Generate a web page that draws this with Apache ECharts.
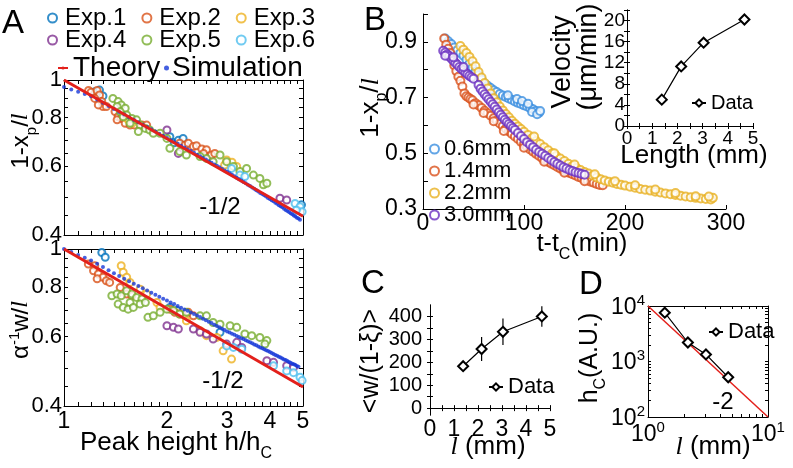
<!DOCTYPE html>
<html><head><meta charset="utf-8">
<script src="https://cdn.jsdelivr.net/npm/echarts@6/dist/echarts.min.js"></script>
<style>html,body{margin:0;padding:0;background:#fff}#c{width:793px;height:468px}</style>
</head><body><div id="c"></div>
<script>
// ---------- Panel A data ----------
const simX = [1.00,1.05,1.10,1.15,1.20,1.25,1.30,1.35,1.40,1.45,1.50,1.55,1.60,1.65,1.70,1.75,1.80,1.85,1.90,1.95,
  2.00,2.05,2.10,2.15,2.20,2.25,2.30,2.35,2.40,2.45,2.50,2.55,2.60,2.65,2.70,2.75,2.80,2.85,2.90,2.95,
  3.00,3.05,3.10,3.15,3.20,3.25,3.30,3.35,3.40,3.45,3.50,3.55,3.60,3.65,3.70,3.75,3.80,3.85,3.90,3.95,
  4.00,4.05,4.10,4.15,4.20,4.25,4.30,4.35,4.40,4.45,4.50,4.55,4.60,4.65,4.70,4.75,4.80,4.85,4.90];
const simTopY = [.960,.946,.933,.921,.909,.891,.874,.858,.843,.828,.815,.802,.790,.779,.768,.757,.747,.737,.728,.719,
  .710,.701,.693,.686,.678,.671,.663,.657,.650,.643,.637,.631,.625,.619,.613,.607,.602,.597,.591,.586,
  .581,.576,.571,.566,.561,.556,.552,.547,.543,.538,.534,.530,.526,.521,.517,.513,.510,.506,.502,.498,
  .495,.491,.488,.484,.481,.477,.474,.471,.467,.464,.461,.458,.455,.452,.449,.446,.443,.441,.438];
const simBotY = [1.000,.982,.965,.950,.935,.917,.900,.884,.868,.854,.840,.828,.816,.806,.795,.785,.775,.766,.757,.748,
  .740,.732,.725,.717,.710,.703,.697,.690,.684,.678,.672,.666,.660,.654,.649,.643,.638,.633,.628,.623,
  .618,.614,.610,.606,.602,.598,.594,.591,.587,.584,.580,.577,.573,.570,.566,.563,.560,.557,.554,.551,
  .548,.545,.542,.539,.536,.533,.531,.528,.525,.523,.520,.517,.515,.512,.510,.508,.505,.503];
const theoryAX = [1, 5];
const theoryAY = [1, 0.447];

const exp1Top = [[1.23,0.933],[1.27,0.942],[1.30,0.91],[2.04,0.715],[2.10,0.69],[2.16,0.70],[2.23,0.708],[4.95,0.478]];
const exp2Top = [[1.18,0.94],[1.20,0.93],[1.25,0.94],[1.27,0.915],[1.23,0.897],[1.29,0.88],[1.30,0.855],[1.26,0.863],[1.33,0.855],
  [1.41,0.83],[1.44,0.805],[1.47,0.797],[1.43,0.79],[1.51,0.774],[1.56,0.766],[1.61,0.766],[1.69,0.766],[1.745,0.766],
  [2.18,0.688],[2.26,0.681],[2.31,0.688],[2.39,0.675],[2.44,0.678],[2.53,0.665],[2.61,0.662],[2.70,0.642],[2.76,0.648],[2.56,0.648]];
const exp3Top = [[1.525,0.797],[1.55,0.785],[1.58,0.774],[2.95,0.605],[2.99,0.623],[3.10,0.615],[3.20,0.60]];
const exp4Top = [[2.00,0.744],[2.16,0.648],[4.28,0.497],[4.48,0.492]];
const exp5Top = [[1.39,0.897],[1.44,0.88],[1.47,0.863],[1.43,0.855],[1.51,0.846],[1.46,0.829],[1.525,0.813],[1.49,0.805],
  [1.58,0.797],[1.63,0.79],[1.56,0.774],[1.67,0.766],[1.73,0.751],[1.65,0.737],[1.78,0.744],[1.825,0.73],[1.91,0.73],
  [2.00,0.708],[2.04,0.668],[2.18,0.655],[2.28,0.642],[2.50,0.636],[2.61,0.629],[2.73,0.617],[2.86,0.642],[2.99,0.617],
  [3.13,0.60],[3.27,0.582],[3.42,0.593],[3.58,0.57],[3.74,0.559],[3.83,0.538],[3.92,0.543]];
const exp6Top = [[3.09,0.593],[3.27,0.57],[3.38,0.565],[4.74,0.482],[4.90,0.473],[4.97,0.459],[4.78,0.463]];

const exp1Bot = [[1.29,0.98],[1.32,0.953],[2.04,0.711],[2.14,0.698],[2.86,0.615]];
const exp2Bot = [[1.178,0.916],[1.23,0.907],[1.22,0.881],[1.26,0.864],[1.30,0.848],[1.25,0.84],[1.33,0.831],[1.36,0.823],
  [1.46,0.799],[1.525,0.769],[1.58,0.761],[2.04,0.704],[2.11,0.691],[2.18,0.684],[2.31,0.691],[2.39,0.677]];
const exp3Bot = [[1.47,0.907],[1.49,0.873],[1.525,0.848],[1.56,0.823],[1.67,0.791],[1.745,0.769],[1.87,0.732],[1.91,0.711],
  [2.28,0.658],[2.50,0.621],[2.61,0.603],[2.80,0.597],[2.92,0.552],[3.09,0.526]];
const exp4Bot = [[2.00,0.639],[2.09,0.633],[2.16,0.627],[2.39,0.627],[2.50,0.615],[2.61,0.609],[2.73,0.591],[2.99,0.574],
  [3.20,0.58],[3.31,0.563],[3.92,0.521],[4.10,0.516],[4.48,0.506],[4.69,0.501]];
const exp5Bot = [[1.38,0.761],[1.43,0.769],[1.47,0.761],[1.525,0.784],[1.58,0.769],[1.63,0.754],[1.69,0.747],[1.56,0.732],
  [1.44,0.725],[1.49,0.711],[1.54,0.704],[1.595,0.711],[1.67,0.725],[1.73,0.732],[1.76,0.671],[1.825,0.677],[1.91,0.691],
  [2.00,0.704],[2.09,0.698],[2.18,0.684],[2.28,0.691],[2.50,0.677],[2.61,0.677],[2.73,0.651],[2.86,0.645],[3.06,0.639],
  [3.20,0.633],[3.38,0.609],[3.54,0.603],[3.74,0.597],[3.92,0.586],[3.87,0.574]];
const exp6Bot = [[2.99,0.568],[3.13,0.563],[3.31,0.557],[4.10,0.506],[4.48,0.491],[4.69,0.486],[4.90,0.473],[4.97,0.464]];

// ---------- Panel B data (t - tc in min, 1 - xp/l) ----------
const b06 = [[22,0.912],[25,0.902],[28,0.892],[31,0.88],[34,0.87],[37,0.86],[40,0.85],[43,0.836],[46,0.822],[49,0.808],
  [52,0.794],[55,0.78],[58,0.765],[61,0.75],[64,0.742],[67,0.734],[70,0.726],[73,0.72],[76,0.713],[79,0.707],[82,0.702],
  [85,0.697],[88,0.692],[91,0.686],[94,0.681],[97,0.677],[100,0.672],[103,0.668],[106,0.663],[109,0.658],[112,0.652],
  [115,0.646],[84,0.708],[93,0.695],[98,0.688],[104,0.678],[108,0.648],[113,0.64],[116,0.652]];
const b14 = [[21,0.912],[23,0.89],[25,0.875],[27,0.86],[29,0.84],[31,0.815],[33,0.795],[35,0.775],[37,0.76],[39,0.74],
  [41,0.715],[43,0.705],[45,0.70],[47,0.695],[49,0.69],[52,0.68],[55,0.672],[58,0.663],[61,0.653],[64,0.644],[67,0.635],
  [70,0.626],[73,0.617],[76,0.607],[79,0.597],[82,0.588],[85,0.578],[88,0.569],[91,0.56],[94,0.551],[97,0.541],[100,0.532],
  [103,0.523],[106,0.514],[109,0.506],[112,0.498],[115,0.49],[118,0.482],[121,0.476],[124,0.469],[127,0.463],[130,0.457],
  [133,0.451],[136,0.445],[139,0.44],[142,0.434],[145,0.429],[148,0.425],[151,0.42],[154,0.415],[157,0.411],[160,0.406],
  [163,0.402],[166,0.398],[169,0.394],[172,0.39],[175,0.386],[178,0.385],
  [50,0.675],[60,0.645],[70,0.615],[80,0.58],[100,0.52],[120,0.47],[140,0.43],[160,0.40]];
const b22 = [[37,0.885],[40,0.872],[43,0.86],[46,0.846],[49,0.83],[52,0.812],[55,0.792],[58,0.772],[61,0.752],[64,0.733],
  [67,0.715],[70,0.698],[73,0.683],[76,0.668],[79,0.654],[82,0.641],[85,0.629],[88,0.617],[91,0.606],[94,0.596],[97,0.587],
  [100,0.577],[104,0.566],[108,0.555],[112,0.544],[116,0.533],[120,0.522],[124,0.511],[128,0.5],[132,0.49],[136,0.481],
  [140,0.472],[144,0.462],[148,0.454],[152,0.447],[156,0.44],[160,0.433],[164,0.427],[168,0.42],[172,0.413],[176,0.407],
  [180,0.402],[184,0.398],[188,0.394],[192,0.39],[196,0.387],[200,0.384],[205,0.38],[210,0.376],[215,0.372],[220,0.369],
  [225,0.366],[230,0.362],[235,0.359],[240,0.356],[245,0.353],[250,0.35],[255,0.348],[260,0.345],[265,0.342],[270,0.34],
  [275,0.338],[280,0.336],[285,0.334],[287,0.34],
  [110,0.56],[130,0.5],[150,0.46],[170,0.425],[190,0.4],[210,0.385],[230,0.37],[250,0.357],[270,0.346],[283,0.345]];
const b30 = [[20,0.868],[22,0.862],[24,0.855],[26,0.848],[28,0.84],[30,0.832],[32,0.825],[34,0.818],[36,0.81],[38,0.803],
  [40,0.797],[42,0.79],[44,0.784],[46,0.778],[48,0.773],[50,0.768],[55,0.745],[57,0.732],[59,0.722],[61,0.712],[63,0.703],
  [65,0.694],[67,0.685],[69,0.676],[71,0.667],[73,0.657],[75,0.647],[77,0.638],[79,0.629],[81,0.62],[83,0.612],[85,0.605],
  [87,0.598],[89,0.591],[91,0.584],[94,0.573],[97,0.562],[100,0.551],[103,0.54],[106,0.531],[109,0.522],[112,0.513],
  [115,0.505],[118,0.498],[121,0.491],[124,0.483],[127,0.476],[130,0.469],[133,0.462],[136,0.456],[139,0.45],[142,0.445],
  [145,0.44],[148,0.436],[151,0.432],[154,0.429],[157,0.426],[160,0.423],[22,0.85],[30,0.845],[40,0.81]];

// ---------- Panels B-inset, C, D ----------
const lengthMM = [1.38, 2.15, 3.04, 4.66];
const velocity = [5.0, 11.3, 15.8, 20.2];
const widthMean = [183, 258, 333, 400];
const widthErr = [10, 52, 58, 45];
const hcValues = [7580, 2200, 1340, 521];
const theoryDX = [1, 10];
const theoryDY = [10000, 100];

// ---------- tick values ----------
const aXLabels = [1, 2, 3, 4, 5];
const aXTicks = [1,1.1,1.2,1.3,1.4,1.5,1.6,1.7,1.8,1.9,2,2.2,2.4,2.6,2.8,3,3.2,3.4,3.6,3.8,4,4.2,4.4,4.6,4.8,5];
const aYLabels = [0.4, 0.6, 0.8, 1];
const aYTicks = [0.4,0.45,0.5,0.55,0.6,0.65,0.7,0.75,0.8,0.85,0.9,0.95,1];
const cYLabels = [0, 100, 200, 300, 400];
const cYTicks = [0, 50, 100, 150, 200, 250, 300, 350, 400];
const halfTicks5 = [0,0.5,1,1.5,2,2.5,3,3.5,4,4.5,5];
const dXLabels = [1, 10];
const dXTicks = [1,2,3,4,5,6,7,8,9,10];
const dYLabels = [100, 1000, 10000];
const dYTicks = [100,200,300,400,500,600,700,800,900,1000,2000,3000,4000,5000,6000,7000,8000,9000,10000];

const FONT = 'Liberation Sans';
const C = {e1:'#0072bd', e2:'#d95319', e3:'#edb120', e4:'#7e2f8e', e5:'#77ac30', e6:'#4dbeee',
  sim:'#1638d8', th:'#e3201b', b06:'#3b8ee0', b14:'#d9501a', b22:'#e8b020', b30:'#6a2ec0'};

const chart = echarts.init(document.getElementById('c'), null, {renderer:'canvas'});

function gridBox(l,t,w,h){ return {left:l, top:t, width:w, height:h, containLabel:false, outerBoundsMode:'none', show:false}; }
const line = {show:true, lineStyle:{color:'#000', width:1}};
function ax(base){ return Object.assign({splitLine:{show:false}, axisLine:line, nameTextStyle:{fontFamily:FONT}}, base); }
function tick(vals, len){ return {show:true, inside:true, length:len||4, customValues:vals, lineStyle:{color:'#000', width:1}}; }
function lab(vals, size, margin, fmt){ const o = {show:true, customValues:vals, fontSize:size, fontFamily:FONT, color:'#000', margin:margin, showMinLabel:true, showMaxLabel:true, hideOverlap:false}; if (fmt) o.formatter = fmt; return o; }
const noLab = {show:false};
const fmtA = v => String(Math.round(v*10)/10);
const fmtPow = v => '{b|10}{s|' + Math.round(Math.log10(v)) + '}';
const powRich = {b:{fontSize:23, fontFamily:FONT, color:'#000', lineHeight:26, verticalAlign:'bottom'}, s:{fontSize:15, fontFamily:FONT, color:'#000', lineHeight:14, verticalAlign:'top'}};

const xAxis = [
  ax({type:'log', gridIndex:0, min:1, max:5, position:'bottom', axisTick:tick(aXTicks), axisLabel:noLab}),
  ax({type:'log', gridIndex:0, min:1, max:5, position:'top', axisTick:tick(aXTicks), axisLabel:noLab}),
  ax({type:'log', gridIndex:1, min:1, max:5, position:'bottom', axisTick:tick(aXTicks), axisLabel:lab(aXLabels, 23, 4)}),
  ax({type:'log', gridIndex:1, min:1, max:5, position:'top', axisTick:tick(aXTicks), axisLabel:noLab}),
  ax({type:'value', gridIndex:2, min:0, max:300, interval:100, position:'bottom', axisTick:{show:true, inside:true, length:4, lineStyle:{color:'#000'}}, axisLabel:{fontSize:23, fontFamily:FONT, color:'#000', margin:3}}),
  ax({type:'value', gridIndex:3, min:0, max:5, interval:1, position:'bottom', axisTick:tick(halfTicks5,3), axisLabel:{fontSize:19, fontFamily:FONT, color:'#000', margin:3}}),
  ax({type:'value', gridIndex:3, min:0, max:5, interval:1, position:'top', axisTick:tick(halfTicks5,3), axisLabel:noLab}),
  ax({type:'value', gridIndex:4, min:0, max:5, interval:1, position:'bottom', axisTick:tick(halfTicks5,3), axisLabel:{fontSize:23, fontFamily:FONT, color:'#000', margin:3, showMinLabel:true, showMaxLabel:true}}),
  ax({type:'value', gridIndex:4, min:0, max:5, interval:1, position:'top', axisTick:tick(halfTicks5,3), axisLabel:noLab}),
  ax({type:'log', gridIndex:5, min:1, max:10, position:'bottom', axisTick:tick(dXTicks,3), axisLabel:Object.assign(lab(dXLabels, 23, 3, fmtPow), {rich:powRich})}),
  ax({type:'log', gridIndex:5, min:1, max:10, position:'top', axisTick:tick(dXTicks,3), axisLabel:noLab})
];
const yAxis = [
  ax({type:'log', gridIndex:0, min:0.4, max:1, position:'left', axisTick:tick(aYTicks), axisLabel:lab(aYLabels, 22, 2, fmtA)}),
  ax({type:'log', gridIndex:0, min:0.4, max:1, position:'right', axisTick:tick(aYTicks), axisLabel:noLab}),
  ax({type:'log', gridIndex:1, min:0.4, max:1, position:'left', axisTick:tick(aYTicks), axisLabel:lab(aYLabels, 22, 2, fmtA)}),
  ax({type:'log', gridIndex:1, min:0.4, max:1, position:'right', axisTick:tick(aYTicks), axisLabel:noLab}),
  ax({type:'value', gridIndex:2, min:0.3, max:1.0, interval:0.1, position:'left',
      axisTick:{show:true, inside:true, length:5, lineStyle:{color:'#000'}},
      axisLabel:{fontSize:23, fontFamily:FONT, color:'#000', margin:6, formatter:v => { const k = Math.round(v*10); return (k % 2 === 1 && k <= 9) ? (k/10).toFixed(1) : ''; }}}),
  ax({type:'value', gridIndex:3, min:0, max:22, interval:2, position:'left', axisTick:{show:true, inside:true, length:3, lineStyle:{color:'#000'}},
      axisLabel:{fontSize:19, fontFamily:FONT, color:'#000', margin:2, showMinLabel:true, formatter:v => (v % 4 === 0 && v <= 20) ? String(v) : ''}}),
  ax({type:'value', gridIndex:3, min:0, max:22, interval:2, position:'right', axisTick:{show:true, inside:true, length:3, lineStyle:{color:'#000'}}, axisLabel:noLab}),
  ax({type:'value', gridIndex:4, min:-30, max:450, position:'left', axisTick:tick(cYTicks,3), axisLabel:lab(cYLabels, 20, 8)}),
  ax({type:'value', gridIndex:4, min:-30, max:450, position:'right', axisTick:tick(cYTicks,3), axisLabel:noLab}),
  ax({type:'log', gridIndex:5, min:100, max:10000, position:'left', axisTick:tick(dYTicks,3), axisLabel:Object.assign(lab(dYLabels, 23, 3, fmtPow), {rich:powRich})}),
  ax({type:'log', gridIndex:5, min:100, max:10000, position:'right', axisTick:tick(dYTicks,3), axisLabel:noLab})
];

function expSeries(name, data, color, xi, yi){
  return {type:'scatter', name:name, data:data, xAxisIndex:xi, yAxisIndex:yi, symbol:'emptyCircle', symbolSize:7,
    itemStyle:{color:color, borderColor:color, borderWidth:1.4}, z:2};
}
function simSeries(ys, xi, yi){
  return {type:'scatter', name:'Simulation', data:ys.map((y,i)=>[simX[i], y]), xAxisIndex:xi, yAxisIndex:yi,
    symbol:'circle', symbolSize:4, itemStyle:{color:C.sim}, z:3};
}
function theorySeries(xs, ys, xi, yi, w){
  return {type:'line', name:'Theory', data:xs.map((x,i)=>[x, ys[i]]), xAxisIndex:xi, yAxisIndex:yi,
    symbol:'none', lineStyle:{color:C.th, width:w}, itemStyle:{color:C.th}, z:4};
}
function bSeries(name, data, color){
  return {type:'scatter', name:name, data:data, xAxisIndex:4, yAxisIndex:4, symbol:'emptyCircle', symbolSize:8,
    itemStyle:{color:color, borderColor:color, borderWidth:1.5}};
}
function dataSeries(ys, xi, yi){
  return {type:'line', name:'Data', data:lengthMM.map((x,i)=>[x, ys[i]]), xAxisIndex:xi, yAxisIndex:yi,
    symbol:'emptyDiamond', symbolSize:10, lineStyle:{color:'#000', width:1.2}, itemStyle:{color:'#000', borderWidth:1.2}, z:5};
}

const series = [
  expSeries('Exp.1', exp1Top, C.e1, 0, 0), expSeries('Exp.2', exp2Top, C.e2, 0, 0), expSeries('Exp.3', exp3Top, C.e3, 0, 0),
  expSeries('Exp.4', exp4Top, C.e4, 0, 0), expSeries('Exp.5', exp5Top, C.e5, 0, 0), expSeries('Exp.6', exp6Top, C.e6, 0, 0),
  simSeries(simTopY, 0, 0), theorySeries(theoryAX, theoryAY, 0, 0, 3),
  expSeries('Exp.1', exp1Bot, C.e1, 2, 2), expSeries('Exp.2', exp2Bot, C.e2, 2, 2), expSeries('Exp.3', exp3Bot, C.e3, 2, 2),
  expSeries('Exp.4', exp4Bot, C.e4, 2, 2), expSeries('Exp.5', exp5Bot, C.e5, 2, 2), expSeries('Exp.6', exp6Bot, C.e6, 2, 2),
  simSeries(simBotY, 2, 2), theorySeries(theoryAX, theoryAY, 2, 2, 3),
  bSeries('0.6mm', b06, C.b06), bSeries('1.4mm', b14, C.b14), bSeries('2.2mm', b22, C.b22), bSeries('3.0mm', b30, C.b30),
  dataSeries(velocity, 5, 5),
  dataSeries(widthMean, 7, 7),
  {type:'custom', name:'err', xAxisIndex:7, yAxisIndex:7, z:4,
   data:lengthMM.map((x,i)=>[x, widthMean[i]-widthErr[i], widthMean[i]+widthErr[i]]),
   renderItem:(params, api) => {
     const p1 = api.coord([api.value(0), api.value(1)]);
     const p2 = api.coord([api.value(0), api.value(2)]);
     return {type:'line', shape:{x1:p1[0], y1:p1[1], x2:p2[0], y2:p2[1]}, style:{stroke:'#000', lineWidth:1.2}};
   }},
  dataSeries(hcValues, 9, 9),
  theorySeries(theoryDX, theoryDY, 9, 9, 1.5)
];

const legText = (size, extra) => Object.assign({fontSize:size, fontFamily:FONT, color:'#000'}, extra||{});
const legend = [
  {left:42, top:1, orient:'horizontal', itemWidth:9, itemHeight:9, itemGap:15, selectedMode:false, data:['Exp.1','Exp.2','Exp.3'], textStyle:legText(24,{padding:[0,0,0,3]})},
  {left:42, top:23, orient:'horizontal', itemWidth:9, itemHeight:9, itemGap:15, selectedMode:false, data:['Exp.4','Exp.5','Exp.6'], textStyle:legText(24,{padding:[0,0,0,3]})},
  {left:52, top:49, itemWidth:10, itemHeight:4, selectedMode:false, data:['Theory'], textStyle:legText(28)},
  {left:159, top:49, itemWidth:5, itemHeight:5, selectedMode:false, data:['Simulation'], textStyle:legText(28,{padding:[0,0,0,-2]})},
  {left:424, top:133, orient:'vertical', itemWidth:9, itemHeight:9, itemGap:0, selectedMode:false, data:['0.6mm','1.4mm','2.2mm','3.0mm'], textStyle:legText(22,{lineHeight:20})},
  {left:686, top:88, itemWidth:14, itemHeight:9, selectedMode:false, data:['Data'], textStyle:legText(20)},
  {left:483, top:371, itemWidth:14, itemHeight:9, selectedMode:false, data:['Data'], textStyle:legText(22)},
  {left:703, top:316, itemWidth:14, itemHeight:9, selectedMode:false, data:['Data'], textStyle:legText(22)}
];

function txt(x, y, text, size, opt){
  opt = opt || {};
  return {type:'text', x:x, y:y, rotation:opt.rot||0, z:10,
    style:{text:text, font: size + 'px "' + FONT + '"', fill:'#000', align:opt.align||'center', verticalAlign:'middle', rich:opt.rich}};
}
const richBase = (size) => ({
  n:{fontSize:size, fontFamily:FONT, color:'#000', lineHeight:size+4, verticalAlign:'middle'},
  sub:{fontSize:Math.round(size*0.62), fontFamily:FONT, color:'#000', lineHeight:size+4, verticalAlign:'bottom', padding:[0,0,-4,0]},
  sup:{fontSize:Math.round(size*0.62), fontFamily:FONT, color:'#000', lineHeight:Math.round(size*0.62), verticalAlign:'top'},
  i:{fontSize:size, fontFamily:'Liberation Serif', fontStyle:'italic', color:'#000', lineHeight:size+4, verticalAlign:'middle'}
});
const R = Math.PI/2;
const graphic = [
  txt(2, 24, 'A', 33, {align:'left'}),
  txt(364, 21, 'B', 33, {align:'left'}),
  txt(361, 284, 'C', 33, {align:'left'}),
  txt(579, 285, 'D', 33, {align:'left'}),
  txt(21, 141, '{n|1-x}{sub|p}{n|/}{i|l}', 24, {rot:R, rich:richBase(24)}),
  txt(21, 330, '{n|α}{sup|-1}{n|w/}{i|l}', 24, {rot:R, rich:richBase(24)}),
  txt(176, 443, '{n|Peak height h/h}{sub|C}', 26, {rich:richBase(26)}),
  txt(220, 207, '-1/2', 24),
  txt(223, 381, '-1/2', 24),
  txt(371, 108, '{n|1-x}{sub|p}{n|/}{i|l}', 26, {rot:R, rich:richBase(26)}),
  txt(582, 244, '{n|t-t}{sub|C}{n|(min)}', 25, {rich:richBase(25)}),
  txt(563, 62, 'Velocity', 27, {rot:R}),
  txt(589, 57, '(μm/min)', 27, {rot:R}),
  txt(694, 156, 'Length (mm)', 26),
  txt(371, 361, '<w/(1-ξ)>', 25, {rot:R}),
  txt(488, 447, '{i|l}{n| (mm)}', 26, {rich:richBase(26)}),
  txt(590, 358, '{n|h}{sub|C}{n|(A.U.)}', 25, {rot:R, rich:richBase(25)}),
  txt(713, 447, '{i|l}{n| (mm)}', 26, {rich:richBase(26)}),
  txt(723, 402, '-2', 24)
];

chart.setOption({
  animation:false,
  backgroundColor:'#fff',
  textStyle:{fontFamily:FONT},
  grid:[gridBox(64,80,239,155), gridBox(64,249,239,157), gridBox(423,14,303,195), gridBox(627,10,126,116), gridBox(430,305,120,110), gridBox(648,306,120,111)],
  xAxis:xAxis, yAxis:yAxis, series:series, legend:legend, graphic:graphic
});
</script></body></html>
